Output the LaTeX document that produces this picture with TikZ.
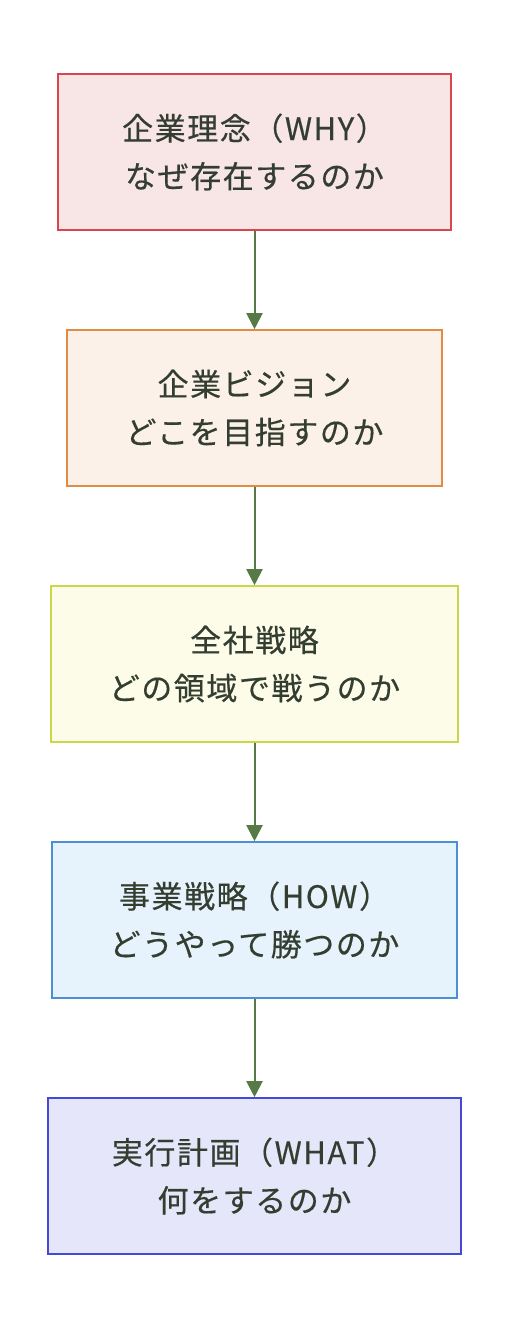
\documentclass[tikz,border=0pt]{standalone}
\usepackage{fontspec}
\setmainfont{Noto Sans CJK JP}[LetterSpace=5, FakeBold=0.4]
\usetikzlibrary{arrows.meta}
\definecolor{txt}{HTML}{333D30}
\definecolor{arr}{HTML}{557A46}
\definecolor{f1}{HTML}{F8E6E7}\definecolor{b1}{HTML}{D9464E}
\definecolor{f2}{HTML}{FCF1E8}\definecolor{b2}{HTML}{E08C44}
\definecolor{f3}{HTML}{FCFCE8}\definecolor{b3}{HTML}{C8D848}
\definecolor{f4}{HTML}{E7F3FC}\definecolor{b4}{HTML}{4A8FD8}
\definecolor{f5}{HTML}{E6E6FA}\definecolor{b5}{HTML}{4848D8}
\tikzset{
  box/.style={draw, line width=1.6pt, minimum height=156pt, inner sep=0pt,
    align=center, text=txt, font=\fontsize{31}{48}\selectfont},
  conn/.style={draw=arr, line width=2pt, -{Triangle[width=16pt,length=16pt]}}
}
\begin{document}
\begin{tikzpicture}[x=1pt,y=-1pt]
\useasboundingbox (0,0) rectangle (508,1332);
\node[box, fill=f1, draw=b1, minimum width=393pt] (n1) at (254.5,152) {企業理念（WHY）\\ なぜ存在するのか};
\node[box, fill=f2, draw=b2, minimum width=375pt] (n2) at (254.5,408) {企業ビジョン\\どこを目指すのか};
\node[box, fill=f3, draw=b3, minimum width=407pt] (n3) at (254.5,664) {全社戦略\\どの領域で戦うのか};
\node[box, fill=f4, draw=b4, minimum width=405pt] (n4) at (254.5,920) {事業戦略（HOW）\\ どうやって勝つのか};
\node[box, fill=f5, draw=b5, minimum width=413pt] (n5) at (254.5,1176) {実行計画（WHAT）\\ 何をするのか};
\draw[conn] (n1) -- (n2);
\draw[conn] (n2) -- (n3);
\draw[conn] (n3) -- (n4);
\draw[conn] (n4) -- (n5);
\end{tikzpicture}
\end{document}
